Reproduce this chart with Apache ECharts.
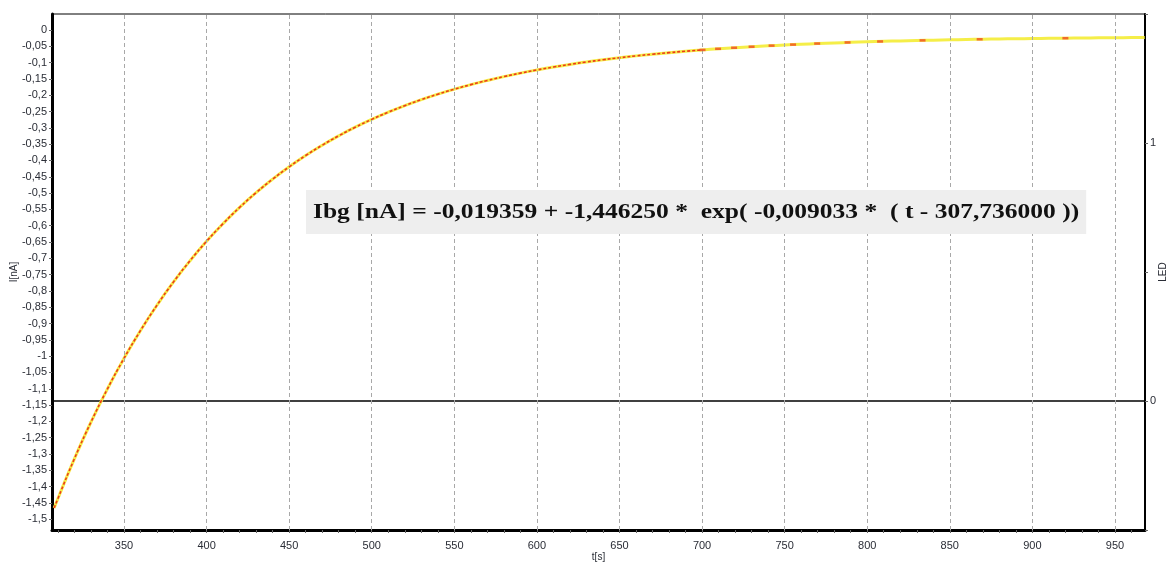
<!DOCTYPE html>
<html>
<head>
<meta charset="utf-8">
<script src="https://cdn.jsdelivr.net/npm/echarts@6/dist/echarts.min.js"></script>
<style>
html,body{margin:0;padding:0;background:#fff;}
#chart{width:1173px;height:565px;}
</style>
</head>
<body>
<div id="chart"></div>
<script>
// time axis [s]
const tSec = [307.7,310,320,330,340,350,360,370,380,390,400,410,420,430,440,450,460,470,480,490,500,510,520,530,540,550,560,570,580,590,600,610,620,630,640,650,660,670,680,690,700,710,720,730,740,750,760,770,780,790,800,810,820,830,840,850,860,870,880,890,900,910,920,930,940,950,960,968];
// fitted curve I [nA]
const fitI = [-1.4656,-1.4363,-1.3140,-1.2022,-1.1000,-1.0067,-0.9214,-0.8435,-0.7723,-0.7073,-0.6479,-0.5936,-0.5440,-0.4987,-0.4573,-0.4195,-0.3849,-0.3533,-0.3245,-0.2981,-0.2741,-0.2521,-0.2320,-0.2136,-0.1968,-0.1815,-0.1675,-0.1547,-0.1430,-0.1323,-0.1226,-0.1137,-0.1055,-0.0981,-0.0913,-0.0851,-0.0794,-0.0742,-0.0695,-0.0651,-0.0612,-0.0576,-0.0543,-0.0513,-0.0485,-0.0460,-0.0437,-0.0416,-0.0397,-0.0379,-0.0363,-0.0348,-0.0335,-0.0323,-0.0312,-0.0301,-0.0292,-0.0284,-0.0276,-0.0269,-0.0262,-0.0256,-0.0251,-0.0246,-0.0241,-0.0237,-0.0234,-0.0231];
// measured data (dense part)
const measT = [307.7,310,320,330,340,350,360,370,380,390,400,410,420,430,440,450,460,470,480,490,500,510,520,530,540,550,560,570,580,590,600,610,620,630,640,650,660,670,680,690,700];
const measI = [-1.4656,-1.4363,-1.3140,-1.2022,-1.1000,-1.0067,-0.9214,-0.8435,-0.7723,-0.7073,-0.6479,-0.5936,-0.5440,-0.4987,-0.4573,-0.4195,-0.3849,-0.3533,-0.3245,-0.2981,-0.2741,-0.2521,-0.2320,-0.2136,-0.1968,-0.1815,-0.1675,-0.1547,-0.1430,-0.1323,-0.1226,-0.1137,-0.1055,-0.0981,-0.0913,-0.0851,-0.0794,-0.0742,-0.0695,-0.0651,-0.0612];
// measured data, quantisation steps (sparse part)
const stepT = [700.3,709.7,719.4,730.0,742.1,755.1,769.7,788.1,807.8,833.5,868.1,920.0];
const stepI = [-0.0611,-0.0577,-0.0545,-0.0513,-0.0480,-0.0448,-0.0416,-0.0382,-0.0352,-0.0319,-0.0285,-0.0251];
// LED signal
const ledT = [306.4,968.2];
const ledV = [0,0];
// tick labels
const xTicks = [350,400,450,500,550,600,650,700,750,800,850,900,950];
const xMinor = [310,320,330,340,350,360,370,380,390,400,410,420,430,440,450,460,470,480,490,500,510,520,530,540,550,560,570,580,590,600,610,620,630,640,650,660,670,680,690,700,710,720,730,740,750,760,770,780,790,800,810,820,830,840,850,860,870,880,890,900,910,920,930,940,950,960];
const yTicks = [-1.5,-1.45,-1.4,-1.35,-1.3,-1.25,-1.2,-1.15,-1.1,-1.05,-1,-0.95,-0.9,-0.85,-0.8,-0.75,-0.7,-0.65,-0.6,-0.55,-0.5,-0.45,-0.4,-0.35,-0.3,-0.25,-0.2,-0.15,-0.1,-0.05,0];
const ledTicks = [0,1];
const equation = 'Ibg [nA] = -0,019359 + -1,446250 *  exp( -0,009033 *  ( t - 307,736000 ))';

const zip = (a,b) => a.map((v,i)=>[v,b[i]]);
const lbl = {fontFamily:'"Liberation Sans", Arial, sans-serif', fontSize:11, color:'#2a2d36'};

const chart = echarts.init(document.getElementById('chart'), null, {renderer:'canvas'});
chart.setOption({
  animation:false,
  backgroundColor:'#ffffff',
  grid:{left:52,right:28,top:14,bottom:35,containLabel:false,outerBoundsMode:'none',
        show:true,borderColor:'#000',borderWidth:1,backgroundColor:'transparent'},
  xAxis:{
    type:'value',min:306.4,max:968.2,
    name:'t[s]',nameLocation:'middle',nameGap:22,nameMoveOverlap:false,
    nameTextStyle:{fontFamily:'"Liberation Sans", Arial, sans-serif',fontSize:10,color:'#2a2d36'},
    axisLine:{show:true,onZero:false,lineStyle:{color:'#000',width:3}},
    axisTick:{show:true,customValues:xMinor,length:3,lineStyle:{color:'#666'}},
    axisLabel:Object.assign({customValues:xTicks,margin:10},lbl),
    splitLine:{show:false}
  },
  yAxis:[{
    type:'value',min:-1.533,max:0.049,position:'left',
    name:'I[nA]',nameLocation:'middle',nameRotate:90,nameGap:33,nameMoveOverlap:false,
    nameTextStyle:{fontFamily:'"Liberation Sans", Arial, sans-serif',fontSize:10,color:'#2a2d36'},
    axisLine:{show:true,onZero:false,lineStyle:{color:'#000',width:3}},
    axisTick:{show:true,customValues:yTicks,length:3,lineStyle:{color:'#666'}},
    axisLabel:Object.assign({customValues:yTicks,margin:5,formatter:v=>String(+(+v).toFixed(2)).replace('.',',')},lbl),
    splitLine:{show:false}
  },{
    type:'value',min:-0.5,max:1.5,interval:0.5,position:'right',
    name:'LED',nameLocation:'middle',nameRotate:90,nameGap:13,nameMoveOverlap:false,
    nameTextStyle:{fontFamily:'"Liberation Sans", Arial, sans-serif',fontSize:10,color:'#2a2d36'},
    axisLine:{show:true,onZero:false,lineStyle:{color:'#000',width:2}},
    axisTick:{show:true,length:3,lineStyle:{color:'#666'}},
    axisLabel:Object.assign({margin:5,formatter:v=>ledTicks.indexOf(+v)>=0?String(v):''},lbl),
    splitLine:{show:false}
  }],
  graphic:[{
    type:'text',x:306,y:190,z:50,scaleX:1.16,
    style:{text:equation,font:'bold 22px "Liberation Serif", "Times New Roman", serif',fill:'#111',
      backgroundColor:'#eeeeee',padding:[11,6,11,6]}
  }],
  series:[
    {type:'line',data:[],z:1,silent:true,
     markLine:{silent:true,symbol:['none','none'],label:{show:false},
       lineStyle:{type:[4,3],color:'#a8a8a8',width:1},
       data:xTicks.map(v=>({xAxis:v}))}},
    {type:'line',yAxisIndex:1,data:zip(ledT,ledV),showSymbol:false,z:2,
     lineStyle:{color:'#000',width:1.4}},
    {type:'line',data:zip(tSec,fitI),smooth:true,showSymbol:false,z:3,
     lineStyle:{color:'#f5ee48',width:3}},
    {type:'line',data:zip(measT,measI),smooth:true,showSymbol:false,z:4,
     lineStyle:{color:'#ec3a1c',width:1.6,type:[3,2]}},
    {type:'scatter',data:zip(stepT,stepI),symbol:'rect',symbolSize:[6,2.5],z:5,
     itemStyle:{color:'#f04a22'}}
  ]
});
</script>
</body>
</html>
